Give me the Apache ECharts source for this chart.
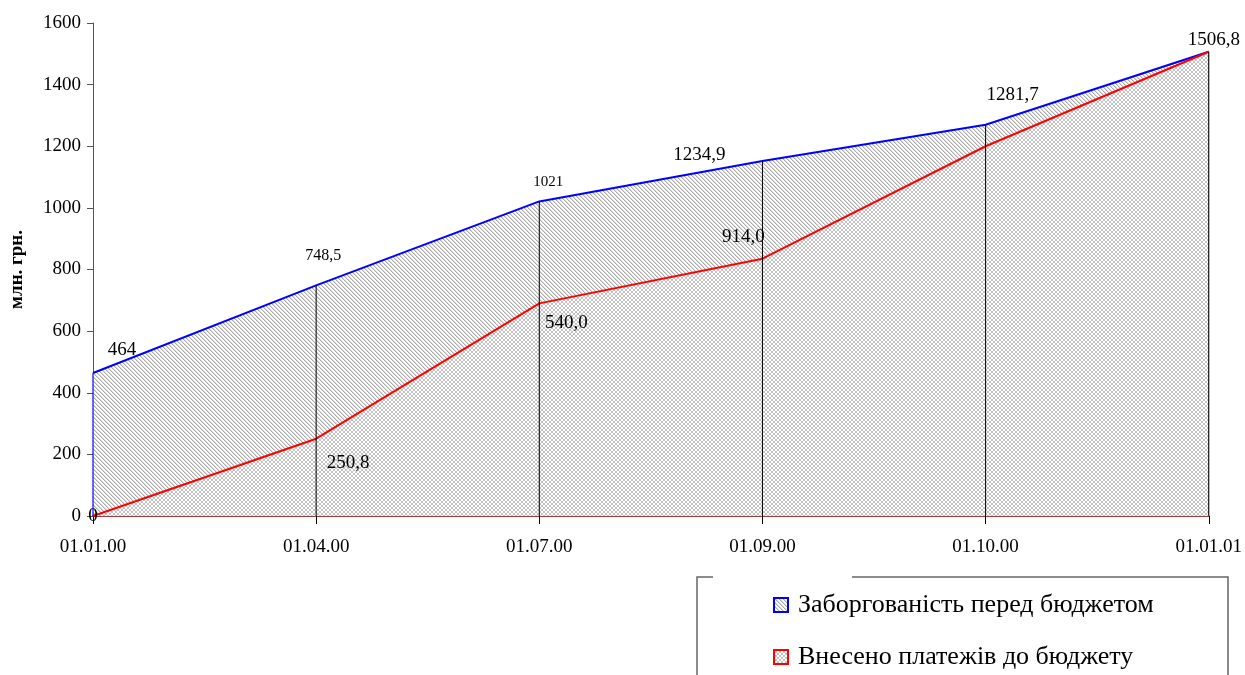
<!DOCTYPE html>
<html>
<head>
<meta charset="utf-8">
<script src="https://cdn.jsdelivr.net/npm/echarts@6/dist/echarts.min.js"></script>
<style>
html,body{margin:0;padding:0;background:#fff;}
#chart{width:1245px;height:675px;}
</style>
</head>
<body>
<div id="chart"></div>
<script>
// ---- data ----
const categories = ['01.01.00', '01.04.00', '01.07.00', '01.09.00', '01.10.00', '01.01.01'];
const debtValues = [464, 748.5, 1021, 1152, 1270, 1506.8];
const debtLabels = ['464', '748,5', '1021', '1234,9', '1281,7', '1506,8'];
const paidValues = [0, 250.8, 690, 835, 1200, 1506.8];
const paidLabels = ['0', '250,8', '540,0', '914,0', '', ''];
const yTicks = [0, 200, 400, 600, 800, 1000, 1200, 1400, 1600];
const seriesNames = ['Заборгованість перед бюджетом', 'Внесено платежів до бюджету'];
const yAxisTitle = 'млн. грн.';

// ---- styles ----
const FONT = '"Liberation Serif", "DejaVu Serif", serif';
function makePattern(kind) {
  const c = document.createElement('canvas');
  c.width = 4; c.height = 4;
  const ctx = c.getContext('2d');
  ctx.fillStyle = '#ffffff';
  ctx.fillRect(0, 0, 4, 4);
  for (let i = 0; i < 4; i++) {
    if (kind === 'diag') {
      ctx.fillStyle = '#aaaaaa';
      ctx.fillRect(i, i, 1, 1);
      ctx.fillStyle = '#dcdcdc';
      ctx.fillRect((i + 1) % 4, i, 1, 1);
    } else {
      ctx.fillStyle = '#c2c2c2';
      ctx.fillRect(i, i, 1, 1);
      ctx.fillRect(3 - i, i, 1, 1);
    }
  }
  return c;
}
const diagPattern = { image: makePattern('diag'), repeat: 'repeat' };
const crossPattern = { image: makePattern('cross'), repeat: 'repeat' };

const debtLabelOffsets = [[29, -23], [7, -30], [9, -19], [-63, -6], [27, -30], [5, -12]];
const debtLabelSizes = [19, 16, 15, 19, 19, 19];
const paidLabelOffsets = [[0, 0], [32, 24], [27, 20], [-19, -22], [0, 0], [0, 0]];

const chart = echarts.init(document.getElementById('chart'), null, { renderer: 'canvas' });

const option = {
  backgroundColor: '#ffffff',
  animation: false,
  grid: { left: 92, right: 36, top: 23, bottom: 159, containLabel: false },
  xAxis: {
    type: 'category',
    data: categories,
    boundaryGap: false,
    axisLine: { lineStyle: { color: '#800000', width: 1.5 } },
    axisTick: { show: true, length: 8, inside: false, lineStyle: { color: '#000' } },
    axisLabel: { color: '#000', fontFamily: FONT, fontSize: 19, margin: 22 },
    splitLine: { show: false }
  },
  yAxis: {
    type: 'value',
    min: yTicks[0],
    max: yTicks[yTicks.length - 1],
    interval: 200,
    name: yAxisTitle,
    nameLocation: 'middle',
    nameGap: 66,
    nameRotate: 90,
    nameTextStyle: { color: '#000', fontFamily: FONT, fontSize: 19, fontWeight: 'bold' },
    axisLine: { show: true, lineStyle: { color: '#555', width: 1 } },
    axisTick: { show: true, length: 6, lineStyle: { color: '#555' } },
    axisLabel: { color: '#000', fontFamily: FONT, fontSize: 19, margin: 12, formatter: v => String(v) },
    splitLine: { show: false }
  },
  legend: {
    orient: 'vertical',
    left: 773,
    top: 591,
    padding: 0,
    itemWidth: 14,
    itemHeight: 14,
    itemGap: 24,
    icon: 'rect',
    textStyle: { color: '#000', fontFamily: FONT, fontSize: 26, lineHeight: 28, padding: [0, 0, 0, 5] },
    data: [
      { name: seriesNames[0], itemStyle: { color: diagPattern, borderColor: '#0000ff', borderWidth: 2 } },
      { name: seriesNames[1], itemStyle: { color: crossPattern, borderColor: '#ff0000', borderWidth: 2 } }
    ]
  },
  graphic: [
    { type: 'polyline', shape: { points: [[713, 577], [697, 577], [697, 675]] }, style: { stroke: '#666', lineWidth: 1.5, fill: null } },
    { type: 'polyline', shape: { points: [[852, 577], [1228, 577], [1228, 675]] }, style: { stroke: '#666', lineWidth: 1.5, fill: null } }
  ],
  series: [
    {
      name: seriesNames[0],
      type: 'line',
      z: 2,
      symbol: 'circle',
      symbolSize: 0.1,
      showSymbol: true,
      itemStyle: { color: '#0000ff' },
      lineStyle: { color: '#0000ff', width: 2 },
      areaStyle: { color: diagPattern, opacity: 1 },
      data: debtValues.map((v, i) => ({
        value: v,
        label: {
          show: true,
          position: 'inside',
          formatter: debtLabels[i],
          offset: debtLabelOffsets[i],
          fontSize: debtLabelSizes[i],
          fontFamily: FONT,
          color: '#000'
        }
      }))
    },
    {
      name: seriesNames[1],
      type: 'line',
      z: 3,
      symbol: 'circle',
      symbolSize: 0.1,
      showSymbol: true,
      itemStyle: { color: '#ff0000' },
      lineStyle: { color: '#ff0000', width: 2 },
      areaStyle: { color: crossPattern, opacity: 1 },
      data: paidValues.map((v, i) => ({
        value: v,
        label: {
          show: paidLabels[i] !== '',
          position: 'inside',
          formatter: paidLabels[i],
          offset: paidLabelOffsets[i],
          fontSize: 19,
          fontFamily: FONT,
          color: '#000'
        }
      }))
    },
    {
      name: 'drop',
      type: 'bar',
      z: 4,
      barWidth: 1,
      silent: true,
      itemStyle: { color: '#000' },
      data: debtValues.map((v, i) => {
        if (i === 0) return { value: v, itemStyle: { color: '#0000ff', borderColor: '#0000ff', borderWidth: 0.5 } };
        if (i === debtValues.length - 1) return { value: v, itemStyle: { color: '#000', borderColor: '#000', borderWidth: 0.6 } };
        return v;
      })
    }
  ]
};
chart.setOption(option);
</script>
</body>
</html>
